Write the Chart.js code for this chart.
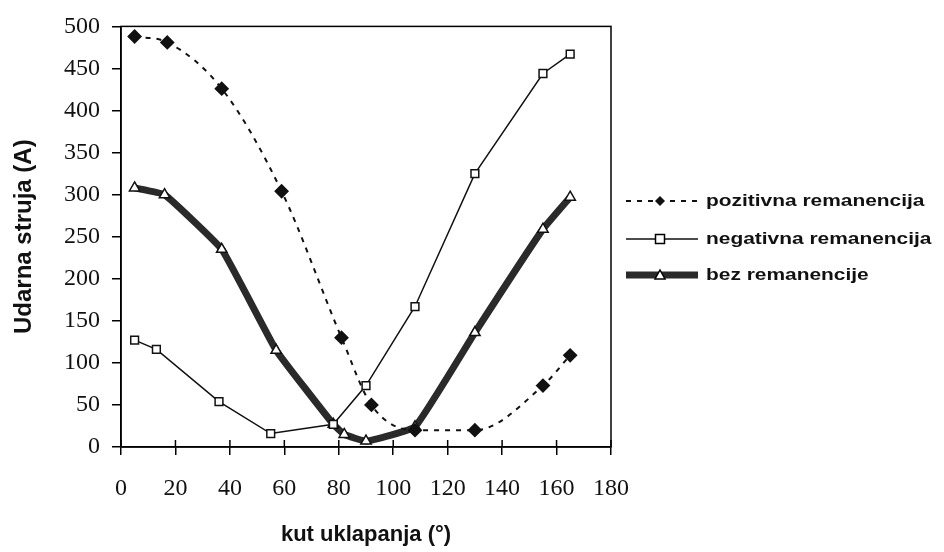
<!DOCTYPE html>
<html>
<head>
<meta charset="utf-8">
<script src="https://cdn.jsdelivr.net/npm/chart.js"></script>
<style>
    body { margin: 0; background: #fff; }
</style>
</head>
<body>
<canvas id="chart" width="944" height="552"></canvas>
<script>
// values
const posX = [5, 17, 37, 59, 81, 92, 108, 130, 155, 165];
const posY = [488, 481, 426, 304, 130, 50, 20, 20, 73, 109];
const negX = [5, 13, 36, 55, 78, 90, 108, 130, 155, 165];
const negY = [127, 116, 54, 16, 27, 73, 167, 325, 444, 467];
const bezX = [5, 16, 37, 57, 78, 82, 90, 108, 130, 155, 165];
const bezY = [308, 300, 235, 115, 27, 15, 7, 24, 136, 259, 297];
const seriesNames = ['pozitivna remanencija', 'negativna remanencija', 'bez remanencije'];
const xTitle = 'kut uklapanja (°)';
const yTitle = 'Udarna struja (A)';

function toPoints(xs, ys) {
    return xs.map((x, i) => ({x: x, y: ys[i]}));
}

function drawMarker(ctx, style, x, y) {
    ctx.save();
    ctx.setLineDash([]);
    ctx.lineWidth = 1.5;
    ctx.strokeStyle = '#000';
    ctx.beginPath();
    if (style === 'rectRot') {
        ctx.fillStyle = '#111';
        ctx.moveTo(x, y - 5); ctx.lineTo(x + 5, y); ctx.lineTo(x, y + 5); ctx.lineTo(x - 5, y);
        ctx.closePath();
        ctx.fill();
    } else if (style === 'rect') {
        ctx.fillStyle = '#fff';
        ctx.rect(x - 4.5, y - 4.5, 9, 9);
        ctx.fill(); ctx.stroke();
    } else {
        ctx.fillStyle = '#fff';
        ctx.moveTo(x, y - 5); ctx.lineTo(x + 5, y + 4); ctx.lineTo(x - 5, y + 4);
        ctx.closePath();
        ctx.fill(); ctx.stroke();
    }
    ctx.restore();
}

// frame around plot + legend on the right
const framePlugin = {
    id: 'frame',
    afterDraw(chart) {
        const ctx = chart.ctx;
        const a = chart.chartArea;
        ctx.save();
        ctx.strokeStyle = '#000';
        ctx.lineWidth = 1.5;
        ctx.strokeRect(a.left, a.top, a.right - a.left, a.bottom - a.top);

        // short inner tick marks on the x axis
        const xs = chart.scales.x;
        xs.ticks.forEach(t => {
            const px = xs.getPixelForValue(t.value);
            ctx.beginPath();
            ctx.moveTo(px, a.bottom);
            ctx.lineTo(px, a.bottom - 7);
            ctx.stroke();
        });

        const rows = [201, 239, 275];
        chart.data.datasets.forEach((ds, i) => {
            const y = rows[i];
            ctx.beginPath();
            ctx.strokeStyle = ds.borderColor;
            ctx.lineWidth = ds.borderWidth;
            ctx.setLineDash(ds.borderDash || []);
            ctx.moveTo(626, y);
            ctx.lineTo(698, y);
            ctx.stroke();
            drawMarker(ctx, ds.pointStyle, 660, y);
            ctx.setLineDash([]);
            // the scan is stretched sideways, so is the legend text
            ctx.save();
            ctx.translate(706, y);
            ctx.scale(1.23, 1);
            ctx.fillStyle = '#111';
            ctx.font = 'bold 17px "Liberation Sans", Arial, sans-serif';
            ctx.textBaseline = 'middle';
            ctx.fillText(ds.label, 0, 0);
            ctx.restore();
        });
        ctx.restore();
    }
};

new Chart(document.getElementById('chart'), {
    type: 'line',
    data: {
        datasets: [
            {
                label: seriesNames[0],
                data: toPoints(posX, posY),
                borderColor: '#111',
                borderWidth: 2,
                borderDash: [5, 6],
                cubicInterpolationMode: 'monotone',
                pointStyle: 'rectRot',
                pointRadius: 6,
                pointBackgroundColor: '#111',
                pointBorderColor: '#111'
            },
            {
                label: seriesNames[1],
                data: toPoints(negX, negY),
                borderColor: '#111',
                borderWidth: 1.5,
                tension: 0,
                pointStyle: 'rect',
                pointRadius: 5.5,
                pointBackgroundColor: '#fff',
                pointBorderColor: '#111',
                pointBorderWidth: 1.5
            },
            {
                label: seriesNames[2],
                data: toPoints(bezX, bezY),
                borderColor: '#2a2a2a',
                borderWidth: 7,
                tension: 0.1,
                pointStyle: 'triangle',
                pointRadius: 6,
                pointBackgroundColor: '#fff',
                pointBorderColor: '#111',
                pointBorderWidth: 1.5
            }
        ]
    },
    options: {
        responsive: false,
        animation: false,
        layout: {padding: {top: 17, right: 333, left: 0, bottom: 0}},
        plugins: {
            legend: {display: false},
            tooltip: {enabled: false}
        },
        scales: {
            x: {
                type: 'linear',
                min: 0,
                max: 180,
                afterFit: (scale) => { scale.height = 105; },
                ticks: {
                    stepSize: 20,
                    color: '#111',
                    padding: 19,
                    font: {family: '"Liberation Serif", "Times New Roman", serif', size: 24}
                },
                grid: {drawOnChartArea: false, tickLength: 8, color: '#000', lineWidth: 1.5},
                border: {display: true, color: '#000', width: 1.5},
                title: {
                    display: true,
                    text: xTitle,
                    color: '#111',
                    padding: {top: 0, bottom: 4},
                    font: {family: '"Liberation Sans", Arial, sans-serif', size: 22, weight: 'bold'}
                }
            },
            y: {
                min: 0,
                max: 500,
                afterFit: (scale) => { scale.width = 121; },
                ticks: {
                    stepSize: 50,
                    color: '#111',
                    padding: 12,
                    font: {family: '"Liberation Serif", "Times New Roman", serif', size: 24}
                },
                grid: {drawOnChartArea: false, tickLength: 9, color: '#000', lineWidth: 1.5},
                border: {display: true, color: '#000', width: 1.5},
                title: {
                    display: true,
                    text: yTitle,
                    color: '#111',
                    padding: {top: 10, bottom: 0},
                    font: {family: '"Liberation Sans", Arial, sans-serif', size: 24, weight: 'bold'}
                }
            }
        }
    },
    plugins: [framePlugin]
});
</script>
</body>
</html>
